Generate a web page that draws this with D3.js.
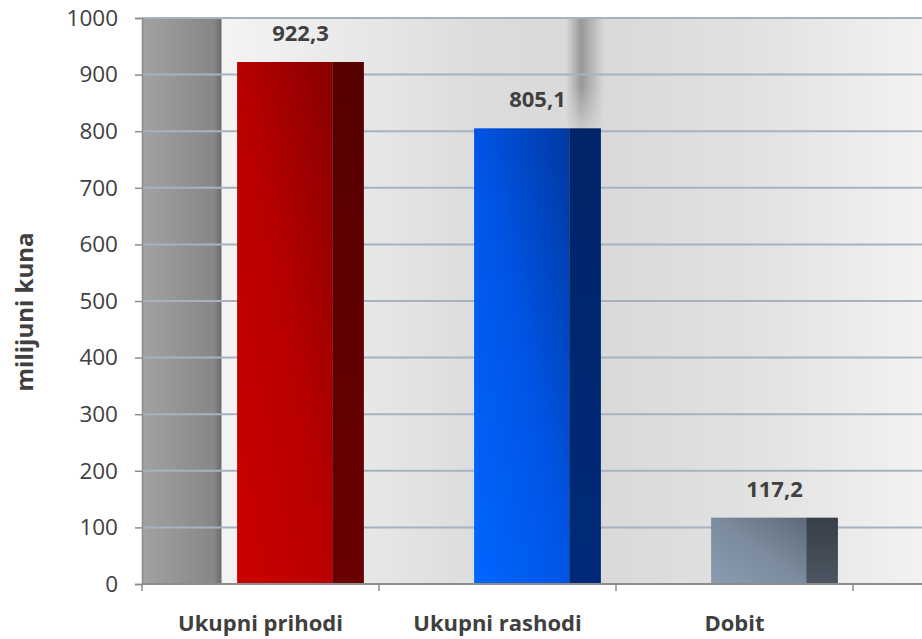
<html>
<head>
<meta charset="UTF-8">
<title>Prihodi i rashodi</title>
<script src="https://d3js.org/d3.v7.min.js"></script>
<style>html,body{margin:0;padding:0;background:#fff;}</style>
</head>
<body>
<div id="container"></div>
<script>
const categories = ['Ukupni prihodi', 'Ukupni rashodi', 'Dobit']
const values = [922.3, 805.1, 117.2]
const valueLabels = ['922,3', '805,1', '117,2']
const yTicks = [0, 100, 200, 300, 400, 500, 600, 700, 800, 900, 1000]

const width = 922, height = 639
const plotLeft = 142, plotRight = 922, plotTop = 18, plotBottom = 584
const bandEnd = 853
const font = "'Open Sans', 'DejaVu Sans', sans-serif"

const svg = d3.select('#container').append('svg')
  .attr('width', width).attr('height', height)

const x = d3.scaleBand().domain(categories).range([plotLeft, bandEnd])
const y = d3.scaleLinear().domain([0, 1000]).range([plotBottom, plotTop])

const defs = svg.append('defs')

// background of the plot area
const bg = defs.append('linearGradient').attr('id', 'bg')
  .attr('gradientUnits', 'userSpaceOnUse')
  .attr('x1', plotLeft).attr('x2', plotRight).attr('y1', 0).attr('y2', 0)
const bgStops = [
  [142, '#a2a2a2'], [214, '#878787'], [219, '#747474'], [221, '#6c6c6c'],
  [222, '#f4f4f4'], [380, '#e6e6e6'], [480, '#dcdcdc'], [600, '#d9d9d9'],
  [760, '#e2e2e2'], [922, '#f2f2f2']
]
bgStops.forEach(s => bg.append('stop')
  .attr('offset', (s[0] - plotLeft) / (plotRight - plotLeft)).attr('stop-color', s[1]))

// shadow stripe near the top
const sh = defs.append('linearGradient').attr('id', 'shadow')
sh.append('stop').attr('offset', 0).attr('stop-color', '#000').attr('stop-opacity', 0)
sh.append('stop').attr('offset', 0.4).attr('stop-color', '#000').attr('stop-opacity', 0.3)
sh.append('stop').attr('offset', 0.6).attr('stop-color', '#000').attr('stop-opacity', 0.2)
sh.append('stop').attr('offset', 1).attr('stop-color', '#000').attr('stop-opacity', 0)
const fade = defs.append('linearGradient').attr('id', 'fade')
  .attr('x1', 0).attr('x2', 0).attr('y1', 0).attr('y2', 1)
fade.append('stop').attr('offset', 0).attr('stop-color', '#fff')
fade.append('stop').attr('offset', 0.55).attr('stop-color', '#fff')
fade.append('stop').attr('offset', 1).attr('stop-color', '#000')
defs.append('mask').attr('id', 'fadeMask').attr('maskContentUnits', 'objectBoundingBox')
  .append('rect').attr('width', 1).attr('height', 1).attr('fill', 'url(#fade)')

// bar fills: front and side
const barColors = [
  { front: ['#cc0000', '#b80000', '#880000'], side: ['#560000', '#6a0000'] },
  { front: ['#0066ff', '#0055e6', '#0038a0'], side: ['#002468', '#002a78'] },
  { front: ['#8a9cb2', '#7c8c9e', '#5e6a78'], side: ['#363e48', '#4c5662'] }
]
barColors.forEach((c, i) => {
  const g = defs.append('linearGradient').attr('id', 'front' + i)
    .attr('x1', 0).attr('y1', 1).attr('x2', 1).attr('y2', 0)
  g.append('stop').attr('offset', 0).attr('stop-color', c.front[0])
  g.append('stop').attr('offset', 0.5).attr('stop-color', c.front[1])
  g.append('stop').attr('offset', 1).attr('stop-color', c.front[2])
  const s = defs.append('linearGradient').attr('id', 'side' + i)
    .attr('x1', 0).attr('y1', 0).attr('x2', 0).attr('y2', 1)
  s.append('stop').attr('offset', 0).attr('stop-color', c.side[0])
  s.append('stop').attr('offset', 1).attr('stop-color', c.side[1])
})

svg.append('rect')
  .attr('x', plotLeft).attr('y', plotTop)
  .attr('width', plotRight - plotLeft).attr('height', plotBottom - plotTop)
  .attr('fill', 'url(#bg)')

svg.append('rect')
  .attr('x', 566).attr('y', plotTop)
  .attr('width', 38).attr('height', 125)
  .attr('fill', 'url(#shadow)')
  .attr('mask', 'url(#fadeMask)')

// gridlines
svg.append('g').selectAll('line')
  .data(yTicks.filter(d => d > 0))
  .join('line')
  .attr('x1', plotLeft).attr('x2', plotRight)
  .attr('y1', d => y(d)).attr('y2', d => y(d))
  .attr('stroke', '#a6b2c2').attr('stroke-width', 2)

// bars
const depth = 40
const barW = x.bandwidth() * 0.535
const sideW = barW * 0.25
const bars = svg.append('g').selectAll('g')
  .data(values)
  .join('g')

bars.append('rect')
  .attr('x', (d, i) => x(categories[i]) + x.bandwidth() / 2 + depth - barW / 2)
  .attr('y', d => y(d))
  .attr('width', barW - sideW)
  .attr('height', d => y(0) - y(d))
  .attr('fill', (d, i) => 'url(#front' + i + ')')

bars.append('rect')
  .attr('x', (d, i) => x(categories[i]) + x.bandwidth() / 2 + depth + barW / 2 - sideW)
  .attr('y', d => y(d))
  .attr('width', sideW)
  .attr('height', d => y(0) - y(d))
  .attr('fill', (d, i) => 'url(#side' + i + ')')

bars.append('text')
  .attr('x', (d, i) => x(categories[i]) + x.bandwidth() / 2 + depth)
  .attr('y', d => y(d) - 21)
  .attr('text-anchor', 'middle')
  .attr('font-family', font).attr('font-weight', 'bold')
  .attr('font-size', 22).attr('fill', '#404040')
  .text((d, i) => valueLabels[i])

// y axis
const yAxis = svg.append('g')
  .attr('transform', 'translate(' + plotLeft + ',0)')
  .call(d3.axisLeft(y).tickValues(yTicks).tickSize(7).tickPadding(17).tickFormat(d3.format('d')))
yAxis.select('.domain').attr('stroke', '#8c8c8c').attr('stroke-width', 1.5)
yAxis.selectAll('.tick line').attr('stroke', '#8c8c8c').attr('stroke-width', 1.5)
yAxis.selectAll('.tick text')
  .attr('font-family', font).attr('font-size', 22.5).attr('fill', '#404040')

// x axis
svg.append('line')
  .attr('x1', plotLeft).attr('x2', plotRight)
  .attr('y1', plotBottom).attr('y2', plotBottom)
  .attr('stroke', '#8c8c8c').attr('stroke-width', 2)
const xTicks = categories.map(c => x(c)).concat([bandEnd])
svg.append('g').selectAll('line')
  .data(xTicks)
  .join('line')
  .attr('x1', d => d).attr('x2', d => d)
  .attr('y1', plotBottom).attr('y2', plotBottom + 7)
  .attr('stroke', '#8c8c8c').attr('stroke-width', 1.5)

svg.append('g').selectAll('text')
  .data(categories)
  .join('text')
  .attr('x', d => x(d) + x.bandwidth() / 2)
  .attr('y', 631)
  .attr('text-anchor', 'middle')
  .attr('font-family', font).attr('font-weight', 'bold')
  .attr('font-size', 22).attr('fill', '#404040')
  .text(d => d)

svg.append('text')
  .attr('transform', 'translate(33,312) rotate(-90)')
  .attr('text-anchor', 'middle')
  .attr('font-family', font).attr('font-weight', 'bold')
  .attr('font-size', 24).attr('fill', '#404040')
  .text('milijuni kuna')
</script>
</body>
</html>
